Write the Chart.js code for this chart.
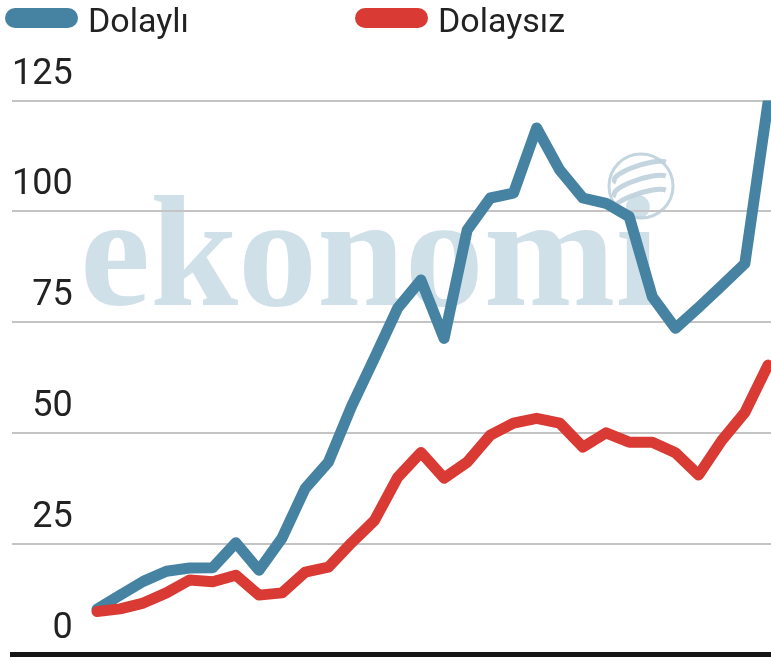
<!DOCTYPE html>
<html lang="tr">
<head>
<meta charset="utf-8">
<title>Dolaylı / Dolaysız</title>
<script src="https://cdn.jsdelivr.net/npm/chart.js@4.4.1/dist/chart.umd.min.js"></script>
<style>
  html, body { margin: 0; padding: 0; background: #fff; }
  #wrap { width: 771px; height: 661px; }
</style>
</head>
<body>
<div id="wrap"><canvas id="chart" width="771" height="661"></canvas></div>
<script>
// --- 1. Data ---
const periods = ['1', '2', '3', '4', '5', '6', '7', '8', '9', '10',
                 '11', '12', '13', '14', '15', '16', '17', '18', '19', '20',
                 '21', '22', '23', '24', '25', '26', '27', '28', '29', '30'];
const dolayli = [10.2, 13.4, 16.5, 18.8, 19.5, 19.6, 25.2, 19.0, 26.3, 37.5,
                 43.4, 56.0, 67.0, 78.2, 84.5, 71.3, 95.8, 103.0, 104.1, 118.8,
                 109.3, 103.0, 101.8, 98.8, 80.7, 73.6, 78.3, 83.2, 88.2, 124.5];
const dolaysiz = [9.7, 10.3, 11.6, 13.9, 16.8, 16.4, 17.9, 13.4, 13.9, 18.6,
                  19.7, 25.2, 30.3, 40.0, 45.6, 39.8, 43.4, 49.5, 52.2, 53.3,
                  52.2, 46.8, 50.0, 47.9, 47.9, 45.5, 40.5, 48.3, 54.6, 65.3];
const yTicks = [0, 25, 50, 75, 100, 125];
const seriesNames = ['Dolaylı', 'Dolaysız'];
const seriesColors = ['#4683a2', '#d93a33'];

const TEXT_COLOR = '#222';
const FONT = 'Roboto, "Open Sans", sans-serif';

// --- 2. Plugins: watermark + pill legend ---
const watermark = {
    id: 'watermark',
    beforeDraw(chart) {
        const ctx = chart.ctx;
        ctx.save();
        ctx.fillStyle = 'rgba(196, 216, 227, 0.8)';
        ctx.font = 'bold 158px "Liberation Serif", "DejaVu Serif", serif';
        ctx.textBaseline = 'alphabetic';
        ctx.fillText('ekonomi', 80, 305);
        // little globe
        ctx.strokeStyle = 'rgba(190, 208, 220, 0.9)';
        ctx.lineWidth = 3;
        ctx.beginPath();
        ctx.arc(641, 186, 32, 0, Math.PI * 2);
        ctx.stroke();
        ctx.lineWidth = 5;
        [-14, 0, 14].forEach(dy => {
            ctx.beginPath();
            ctx.ellipse(641, 186 + dy, 28, 7, -0.3, Math.PI * 0.9, Math.PI * 1.9);
            ctx.stroke();
        });
        ctx.restore();
    }
};

const pillLegend = {
    id: 'pillLegend',
    afterDraw(chart) {
        const ctx = chart.ctx;
        const startX = [15, 365];
        ctx.save();
        chart.data.datasets.forEach((ds, i) => {
            const x = startX[i];
            ctx.strokeStyle = ds.borderColor;
            ctx.lineWidth = 20;
            ctx.lineCap = 'round';
            ctx.beginPath();
            ctx.moveTo(x, 18);
            ctx.lineTo(x + 53, 18);
            ctx.stroke();
            ctx.fillStyle = TEXT_COLOR;
            ctx.font = '34px ' + FONT;
            ctx.textBaseline = 'alphabetic';
            ctx.fillText(ds.label, x + 73, 32);
        });
        ctx.restore();
    }
};

// --- 3. Chart ---
const toPoints = arr => arr.map((v, i) => ({ x: i, y: v }));

const ctx = document.getElementById('chart').getContext('2d');
new Chart(ctx, {
    type: 'line',
    data: {
        labels: periods,
        datasets: [
            {
                label: seriesNames[0],
                data: toPoints(dolayli),
                borderColor: seriesColors[0],
                borderWidth: 11,
                order: 2
            },
            {
                label: seriesNames[1],
                data: toPoints(dolaysiz),
                borderColor: seriesColors[1],
                borderWidth: 11,
                order: 1
            }
        ]
    },
    options: {
        responsive: false,
        animation: false,
        layout: { padding: { left: 12, top: 100.5, right: 0, bottom: 6.5 } },
        elements: {
            point: { radius: 0 },
            line: { tension: 0, borderJoinStyle: 'round', borderCapStyle: 'round', fill: false }
        },
        plugins: {
            legend: { display: false },
            tooltip: { enabled: false }
        },
        scales: {
            x: {
                type: 'linear',
                min: -3.674,
                max: 29.13,
                grid: { color: 'rgba(0,0,0,0)', drawTicks: false },
                ticks: { display: false },
                border: { display: true, color: '#161616', width: 5 }
            },
            y: {
                min: 0,
                max: 125,
                afterBuildTicks: scale => { scale.ticks = yTicks.map(v => ({ value: v })); },
                border: { display: false },
                grid: { color: '#c4c4c4', lineWidth: 2, drawTicks: false },
                ticks: {
                    mirror: true,
                    align: 'end',
                    crossAlign: 'far',
                    padding: 0,
                    labelOffset: -8,
                    color: TEXT_COLOR,
                    font: { family: FONT, size: 36 }
                }
            }
        }
    },
    plugins: [watermark, pillLegend]
});
</script>
</body>
</html>
